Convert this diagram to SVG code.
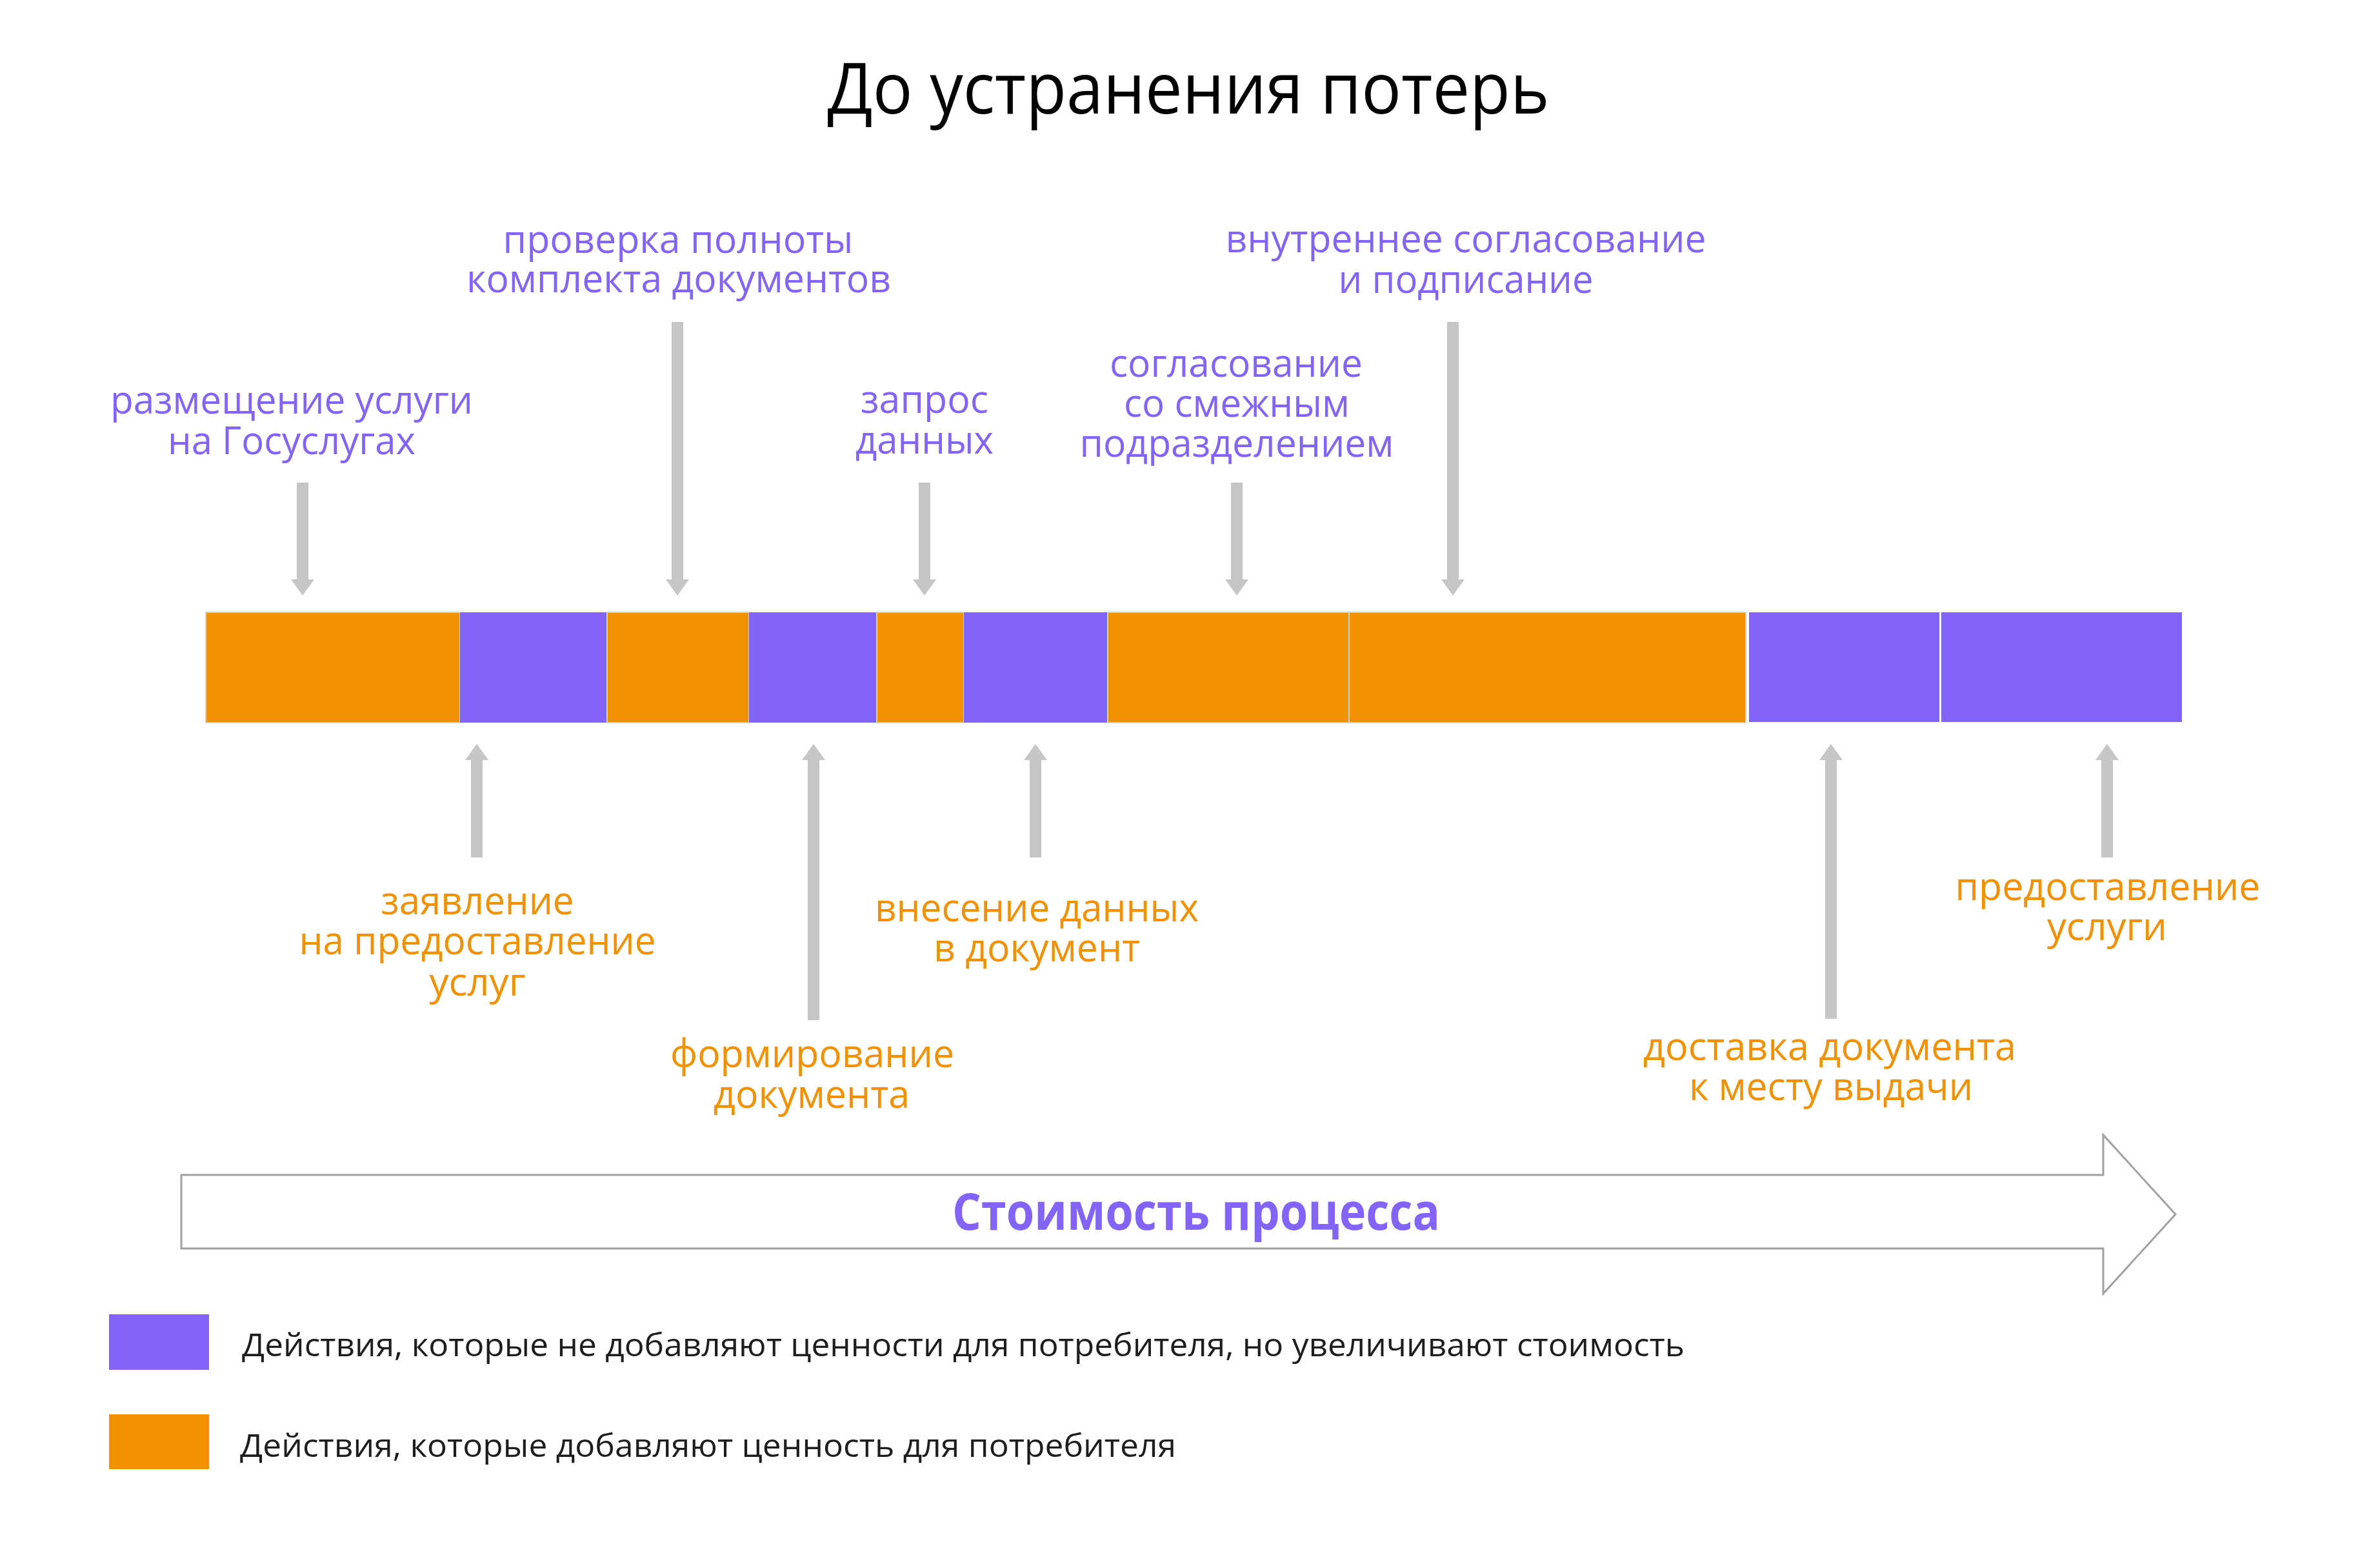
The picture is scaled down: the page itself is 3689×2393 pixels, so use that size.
<svg xmlns="http://www.w3.org/2000/svg" width="3689" height="2393" viewBox="0 0 3689 2393">
<style>
text{font-family:"Open Sans","Noto Sans","Liberation Sans",sans-serif}
.t{font-size:110px;fill:#000}
.lp{font-size:60px;fill:#8264FB;text-anchor:middle}
.lo{font-size:60px;fill:#F29100;text-anchor:middle}
.or{fill:#F29100;stroke:#cfcfcf;stroke-width:2}
.pu{fill:#8264FB}
.ar{stroke:#c6c6c6;stroke-width:18;fill:none;marker-end:url(#ah)}
.leg{font-size:50px;fill:#1d1d1b}
</style>
<defs>
<marker id="ah" markerUnits="userSpaceOnUse" viewBox="-1 -18 25 36" markerWidth="25" markerHeight="36" refX="0" refY="0" orient="auto">
<path d="M-1,-18 L24,0 L-1,18 Z" fill="#c6c6c6"/>
</marker>
</defs>
<rect width="3689" height="2393" fill="#fff"/>
<text class="t" x="1842" y="176" text-anchor="middle" textLength="1119" lengthAdjust="spacingAndGlyphs">До устранения потерь</text>

<g id="bar">
<rect id="s1" class="or" x="319" y="949" width="394" height="171"/>
<rect id="s2" class="pu" x="713" y="949" width="228" height="171"/>
<rect id="s3" class="or" x="941" y="949" width="220" height="171"/>
<rect id="s4" class="pu" x="1161" y="949" width="198" height="171"/>
<rect id="s5" class="or" x="1359" y="949" width="135" height="171"/>
<rect id="s6" class="pu" x="1494" y="949" width="223" height="171"/>
<rect id="s7" class="or" x="1717" y="949" width="374" height="171"/>
<rect id="s8" class="or" x="2091" y="949" width="615" height="171"/>
<rect id="s9" class="pu" x="2711" y="949" width="295" height="170"/>
<rect id="s10" class="pu" x="3009" y="949" width="373" height="170"/>
</g>

<g id="connectors">
<path class="ar" d="M469,748 V899"/>
<path class="ar" d="M1050,499 V899"/>
<path class="ar" d="M1433,748 V899"/>
<path class="ar" d="M1917,748 V899"/>
<path class="ar" d="M2252,499 V899"/>
<path class="ar" d="M739,1329 V1177"/>
<path class="ar" d="M1261,1581 V1177"/>
<path class="ar" d="M1605,1329 V1177"/>
<path class="ar" d="M2838,1579 V1177"/>
<path class="ar" d="M3266,1329 V1177"/>
</g>

<g id="n1"><text class="lp" x="452" y="641" textLength="562" lengthAdjust="spacingAndGlyphs">размещение услуги</text><text class="lp" x="452" y="704" textLength="384" lengthAdjust="spacingAndGlyphs">на Госуслугах</text></g>
<g id="n2"><text class="lp" x="1051" y="392" textLength="543" lengthAdjust="spacingAndGlyphs">проверка полноты</text><text class="lp" x="1052" y="453" textLength="658" lengthAdjust="spacingAndGlyphs">комплекта документов</text></g>
<g id="n3"><text class="lp" x="1433" y="640" textLength="198" lengthAdjust="spacingAndGlyphs">запрос</text><text class="lp" x="1433" y="703" textLength="214" lengthAdjust="spacingAndGlyphs">данных</text></g>
<g id="n4"><text class="lp" x="1916" y="584" textLength="392" lengthAdjust="spacingAndGlyphs">согласование</text><text class="lp" x="1917" y="646" textLength="350" lengthAdjust="spacingAndGlyphs">со смежным</text><text class="lp" x="1917" y="708" textLength="487" lengthAdjust="spacingAndGlyphs">подразделением</text></g>
<g id="n5"><text class="lp" x="2272" y="391" textLength="745" lengthAdjust="spacingAndGlyphs">внутреннее согласование</text><text class="lp" x="2272" y="454" textLength="395" lengthAdjust="spacingAndGlyphs">и подписание</text></g>

<g id="n6"><text class="lo" x="740" y="1417" textLength="299" lengthAdjust="spacingAndGlyphs">заявление</text><text class="lo" x="740" y="1479" textLength="553" lengthAdjust="spacingAndGlyphs">на предоставление</text><text class="lo" x="740" y="1543" textLength="149" lengthAdjust="spacingAndGlyphs">услуг</text></g>
<g id="n7"><text class="lo" x="1259" y="1654" textLength="440" lengthAdjust="spacingAndGlyphs">формирование</text><text class="lo" x="1258" y="1717" textLength="304" lengthAdjust="spacingAndGlyphs">документа</text></g>
<g id="n8"><text class="lo" x="1607" y="1428" textLength="502" lengthAdjust="spacingAndGlyphs">внесение данных</text><text class="lo" x="1607" y="1490" textLength="320" lengthAdjust="spacingAndGlyphs">в документ</text></g>
<g id="n9"><text class="lo" x="2836" y="1643" textLength="578" lengthAdjust="spacingAndGlyphs">доставка документа</text><text class="lo" x="2838" y="1705" textLength="440" lengthAdjust="spacingAndGlyphs">к месту выдачи</text></g>
<g id="n10"><text class="lo" x="3267" y="1395" textLength="473" lengthAdjust="spacingAndGlyphs">предоставление</text><text class="lo" x="3266" y="1457" textLength="186" lengthAdjust="spacingAndGlyphs">услуги</text></g>

<g id="cost">
<polygon points="281,1821 3260,1821 3260,1759 3372,1882 3260,2005 3260,1935 281,1935" fill="#fff" stroke="#a0a0a0" stroke-width="3" stroke-linejoin="miter"/>
<text x="1854" y="1906" text-anchor="middle" font-size="78" font-weight="700" fill="#8264FB" textLength="756" lengthAdjust="spacingAndGlyphs">Стоимость процесса</text>
</g>

<g id="legend">
<rect x="169" y="2037" width="155" height="86" fill="#8264FB"/>
<text class="leg" x="375" y="2102" textLength="2236" lengthAdjust="spacingAndGlyphs">Действия, которые не добавляют ценности для потребителя, но увеличивают стоимость</text>
<rect x="169" y="2192" width="155" height="85" fill="#F29100"/>
<text class="leg" x="372" y="2258" textLength="1451" lengthAdjust="spacingAndGlyphs">Действия, которые добавляют ценность для потребителя</text>
</g>
</svg>
